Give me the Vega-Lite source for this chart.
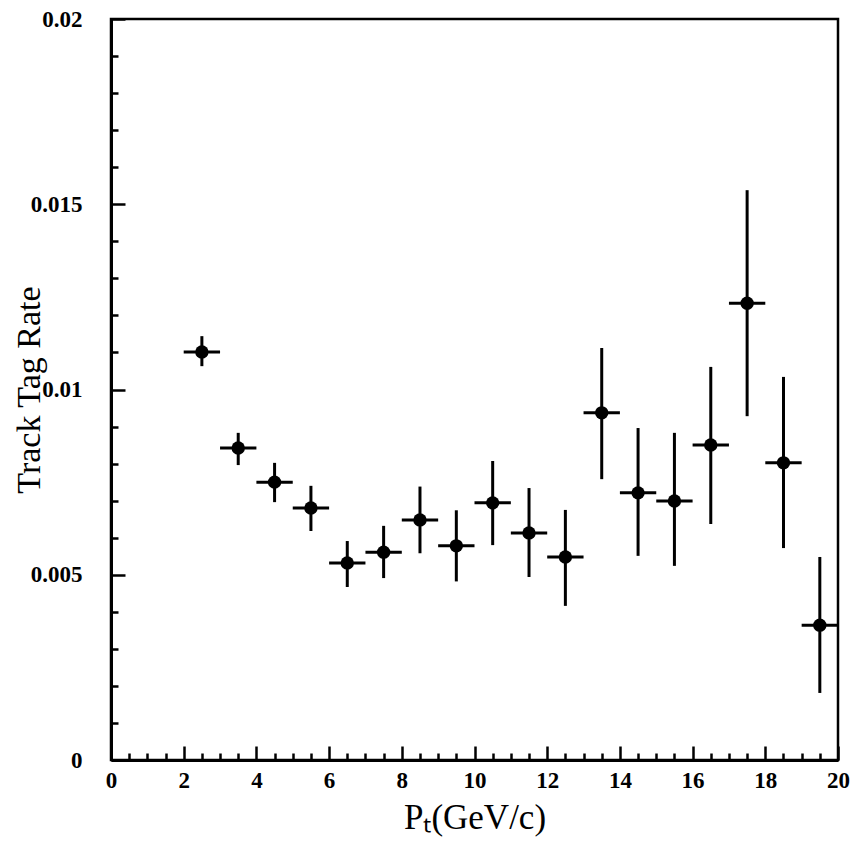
{
  "$schema": "https://vega.github.io/schema/vega-lite/v6.json",
  "autosize": {"type": "none"},
  "width": 727,
  "height": 741,
  "padding": {"left": 111, "top": 19, "right": 16, "bottom": 82},
  "background": "white",
  "config": {
    "view": {"stroke": "black", "strokeWidth": 2.5},
    "axis": {"grid": false, "domainColor": "black", "tickColor": "black", "labelColor": "black", "titleColor": "black"}
  },
  "data": {
    "values": [
      {"pt": 2.5, "xlo": 2, "xhi": 3, "rate": 0.01101, "rlo": 0.01063, "rhi": 0.01144},
      {"pt": 3.5, "xlo": 3, "xhi": 4, "rate": 0.00842, "rlo": 0.00796, "rhi": 0.00883},
      {"pt": 4.5, "xlo": 4, "xhi": 5, "rate": 0.00750, "rlo": 0.00696, "rhi": 0.00802},
      {"pt": 5.5, "xlo": 5, "xhi": 6, "rate": 0.00680, "rlo": 0.00618, "rhi": 0.00740},
      {"pt": 6.5, "xlo": 6, "xhi": 7, "rate": 0.00532, "rlo": 0.00467, "rhi": 0.00591},
      {"pt": 7.5, "xlo": 7, "xhi": 8, "rate": 0.00561, "rlo": 0.00491, "rhi": 0.00632},
      {"pt": 8.5, "xlo": 8, "xhi": 9, "rate": 0.00648, "rlo": 0.00558, "rhi": 0.00738},
      {"pt": 9.5, "xlo": 9, "xhi": 10, "rate": 0.00578, "rlo": 0.00482, "rhi": 0.00674},
      {"pt": 10.5, "xlo": 10, "xhi": 11, "rate": 0.00694, "rlo": 0.00580, "rhi": 0.00807},
      {"pt": 11.5, "xlo": 11, "xhi": 12, "rate": 0.00613, "rlo": 0.00494, "rhi": 0.00734},
      {"pt": 12.5, "xlo": 12, "xhi": 13, "rate": 0.00548, "rlo": 0.00416, "rhi": 0.00675},
      {"pt": 13.5, "xlo": 13, "xhi": 14, "rate": 0.00937, "rlo": 0.00758, "rhi": 0.01112},
      {"pt": 14.5, "xlo": 14, "xhi": 15, "rate": 0.00721, "rlo": 0.00551, "rhi": 0.00896},
      {"pt": 15.5, "xlo": 15, "xhi": 16, "rate": 0.00699, "rlo": 0.00524, "rhi": 0.00883},
      {"pt": 16.5, "xlo": 16, "xhi": 17, "rate": 0.00850, "rlo": 0.00637, "rhi": 0.01061},
      {"pt": 17.5, "xlo": 17, "xhi": 18, "rate": 0.01233, "rlo": 0.00928, "rhi": 0.01538},
      {"pt": 18.5, "xlo": 18, "xhi": 19, "rate": 0.00802, "rlo": 0.00572, "rhi": 0.01034},
      {"pt": 19.5, "xlo": 19, "xhi": 20, "rate": 0.00364, "rlo": 0.00181, "rhi": 0.00548}
    ]
  },
  "resolve": {"axis": {"x": "independent", "y": "independent"}},
  "layer": [
    {
      "mark": {"type": "rule", "color": "black", "strokeWidth": 3},
      "encoding": {
        "x": {
          "field": "pt", "type": "quantitative",
          "scale": {"domain": [0, 20], "nice": false, "zero": false},
          "axis": {
            "orient": "bottom",
            "values": [0, 2, 4, 6, 8, 10, 12, 14, 16, 18, 20],
            "format": "d",
            "tickSize": -14, "tickWidth": 2.5, "domainWidth": 3,
            "labelFont": "Liberation Serif", "labelFontWeight": "bold", "labelFontSize": 23,
            "labelPadding": 23, "labelFlush": false, "labelColor": "#000000",
            "title": "Pₜ(GeV/c)", "titleFont": "Liberation Serif", "titleFontWeight": "normal", "titleFontSize": 35,
            "titlePadding": 8, "titleColor": "#000000"
          }
        },
        "y": {
          "field": "rlo", "type": "quantitative",
          "scale": {"domain": [0, 0.02], "nice": false, "zero": false},
          "axis": {
            "orient": "left",
            "values": [0, 0.005, 0.01, 0.015, 0.02],
            "format": "~g",
            "tickSize": -14, "tickWidth": 2.5, "domainWidth": 3,
            "labelFont": "Liberation Serif", "labelFontWeight": "bold", "labelFontSize": 23,
            "labelPadding": 43, "labelFlush": false, "labelColor": "#000000",
            "title": "Track Tag Rate", "titleFont": "Liberation Serif", "titleFontWeight": "normal", "titleFontSize": 34,
            "titlePadding": -16, "titleColor": "#000000"
          }
        },
        "y2": {"field": "rhi"}
      }
    },
    {
      "mark": {"type": "rule", "color": "black", "strokeWidth": 3},
      "encoding": {
        "x": {
          "field": "xlo", "type": "quantitative",
          "axis": {
            "orient": "bottom",
            "values": [0.5, 1, 1.5, 2.5, 3, 3.5, 4.5, 5, 5.5, 6.5, 7, 7.5, 8.5, 9, 9.5, 10.5, 11, 11.5, 12.5, 13, 13.5, 14.5, 15, 15.5, 16.5, 17, 17.5, 18.5, 19, 19.5],
            "labels": false, "domain": false, "title": null,
            "tickSize": -7, "tickWidth": 2.5
          }
        },
        "x2": {"field": "xhi"},
        "y": {
          "field": "rate", "type": "quantitative",
          "axis": {
            "orient": "left",
            "values": [0.001, 0.002, 0.003, 0.004, 0.006, 0.007, 0.008, 0.009, 0.011, 0.012, 0.013, 0.014, 0.016, 0.017, 0.018, 0.019],
            "labels": false, "domain": false, "title": null,
            "tickSize": -7, "tickWidth": 2.5
          }
        }
      }
    },
    {
      "mark": {"type": "point", "shape": "circle", "filled": true, "color": "black", "opacity": 1, "size": 180},
      "encoding": {
        "x": {"field": "pt", "type": "quantitative", "axis": null},
        "y": {"field": "rate", "type": "quantitative", "axis": null}
      }
    }
  ]
}
